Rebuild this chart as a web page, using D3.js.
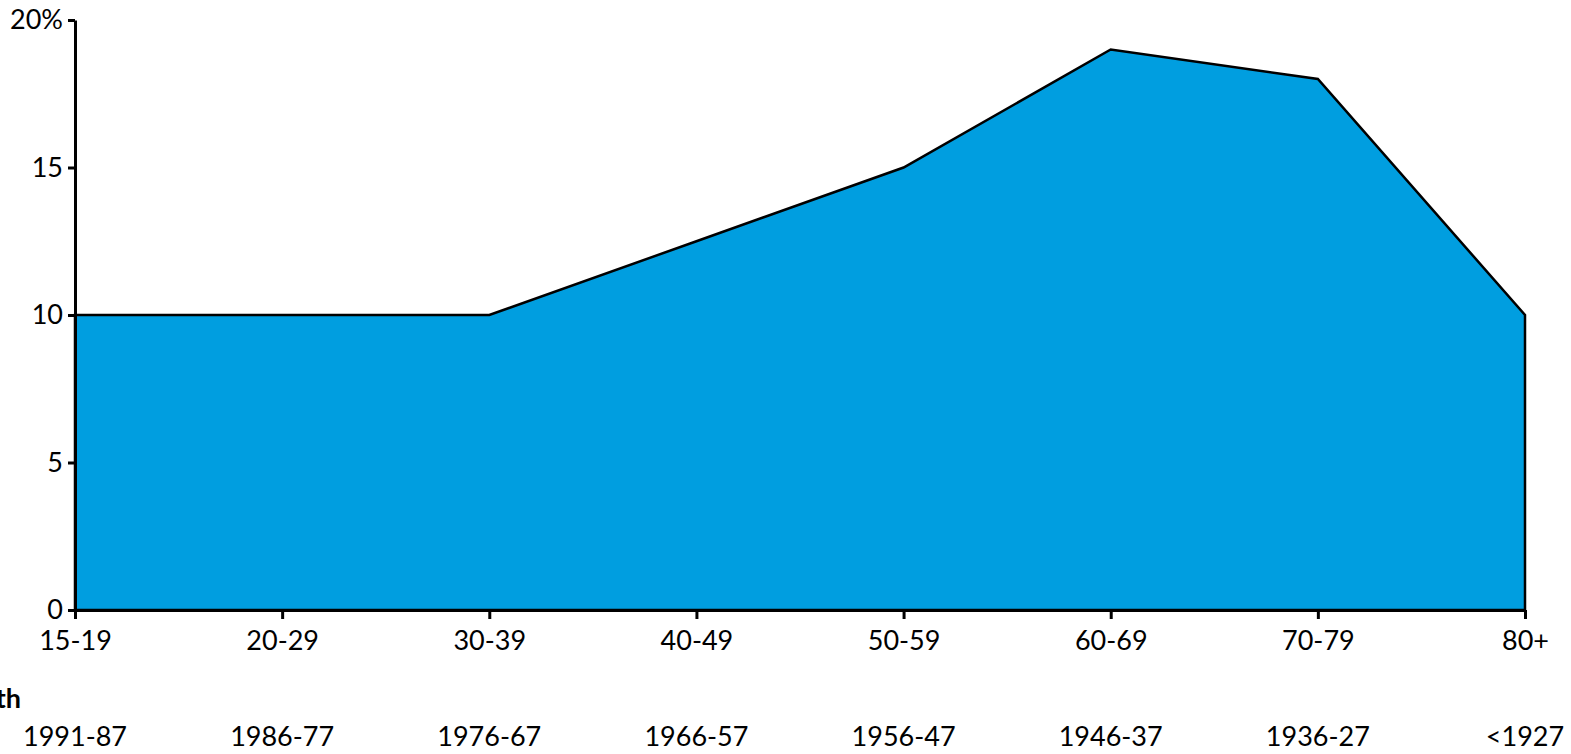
<script src="https://d3js.org/d3.v7.min.js"></script>
<style>
    body { margin: 0; background: #fff; }
    svg text { font-family: Lato, "Noto Sans", sans-serif; fill: #000; }
</style>
<svg id="chart" width="1571" height="754"></svg>
<script>
    var ageGroups = ["15-19", "20-29", "30-39", "40-49", "50-59", "60-69", "70-79", "80+"];
    var birthYears = ["1991-87", "1986-77", "1976-67", "1966-57", "1956-47", "1946-37", "1936-27", "<1927"];
    var shares = [10, 10, 10, 12.5, 15, 19, 18, 10];
    var yTicks = [0, 5, 10, 15, 20];

    var data = ageGroups.map((a, i) => ({age: a, born: birthYears[i], value: shares[i]}));

    var margin = {top: 20, right: 46, bottom: 144, left: 75};
    var fontSize = 27;
    var svg = d3.select("#chart");
    var width = +svg.attr("width");
    var height = +svg.attr("height");

    var x = d3.scalePoint()
        .domain(ageGroups)
        .range([margin.left, width - margin.right]);
    var y = d3.scaleLinear()
        .domain([0, 20])
        .range([height - margin.bottom, margin.top]);

    var area = d3.area()
        .x(d => x(d.age))
        .y0(y(0))
        .y1(d => y(d.value));

    svg.append("path")
        .datum(data)
        .attr("d", area)
        .attr("fill", "#009ee0")
        .attr("stroke", "#000")
        .attr("stroke-width", 2.5);

    // x axis
    var xAxis = svg.append("g")
        .attr("transform", `translate(0,${y(0)})`)
        .call(d3.axisBottom(x).tickSize(9).tickSizeOuter(0).tickPadding(12));
    xAxis.select(".domain").attr("stroke", "#000").attr("stroke-width", 3);
    xAxis.selectAll(".tick line").attr("stroke", "#000").attr("stroke-width", 3);
    xAxis.selectAll("text").attr("font-size", fontSize).attr("font-family", "Lato, sans-serif").attr("fill", "#000");

    // y axis
    var yAxis = svg.append("g")
        .attr("transform", `translate(${margin.left},0)`)
        .call(d3.axisLeft(y).tickValues(yTicks).tickSize(7).tickSizeOuter(0).tickPadding(5)
            .tickFormat(d => d === 20 ? "20%" : d));
    yAxis.select(".domain").attr("stroke", "#000").attr("stroke-width", 3);
    yAxis.selectAll(".tick line").attr("stroke", "#000").attr("stroke-width", 3);
    yAxis.selectAll("text").attr("font-size", fontSize).attr("font-family", "Lato, sans-serif").attr("fill", "#000");

    // birth year row
    svg.append("g")
        .selectAll("text")
        .data(data)
        .join("text")
        .attr("x", d => x(d.age))
        .attr("y", 746)
        .attr("text-anchor", "middle")
        .attr("font-size", fontSize)
        .text(d => d.born);

    svg.append("text")
        .attr("x", 21)
        .attr("y", 708)
        .attr("text-anchor", "end")
        .attr("font-size", fontSize)
        .attr("font-weight", "bold")
        .text("Year of birth");
</script>
